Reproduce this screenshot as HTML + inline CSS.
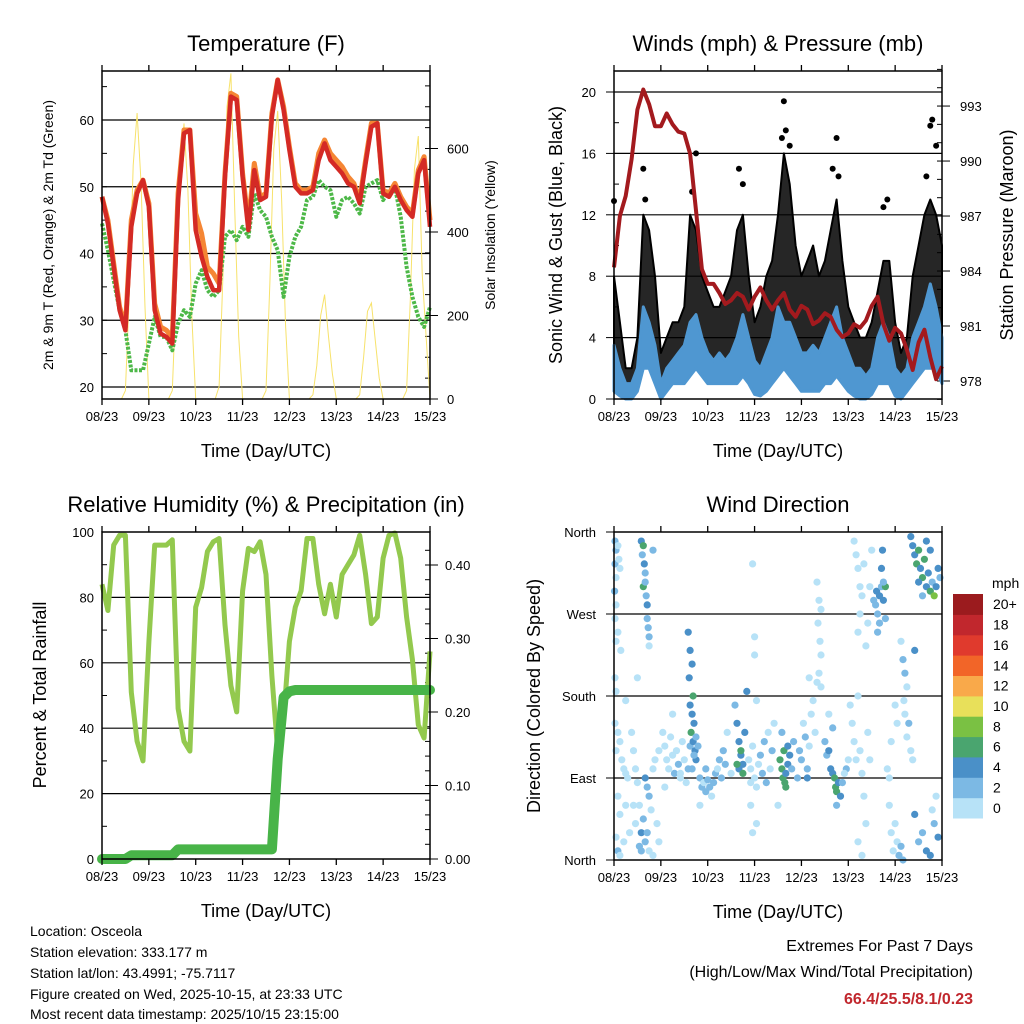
<!DOCTYPE html>
<html><head><meta charset="utf-8">
<style>
html,body{margin:0;padding:0;background:#fff;}
svg{display:block;font-family:"Liberation Sans",Arial,sans-serif;}
</style></head>
<body>
<svg id="chart" width="1024" height="1024" viewBox="0 0 1024 1024" xmlns="http://www.w3.org/2000/svg">
<rect x="0" y="0" width="1024" height="1024" fill="#fff"/>
<g id="p1"></g>
<g id="p2"></g>
<g id="p3"></g>
<g id="p4"></g>
<g id="cbar"></g>
<g font-size="14" fill="#000">
<text x="30" y="936">Location: Osceola</text>
<text x="30" y="957">Station elevation: 333.177 m</text>
<text x="30" y="978">Station lat/lon: 43.4991; -75.7117</text>
<text x="30" y="999">Figure created on Wed, 2025-10-15, at 23:33 UTC</text>
<text x="30" y="1019">Most recent data timestamp: 2025/10/15 23:15:00</text>
</g>
<g text-anchor="end" font-size="16">
<text x="973" y="951">Extremes For Past 7 Days</text>
<text x="973" y="977">(High/Low/Max Wind/Total Precipitation)</text>
<text x="973" y="1004" fill="#c1272d" font-weight="bold">66.4/25.5/8.1/0.23</text>
</g>
</svg>
<script>
const dayLabels=["08/23","09/23","10/23","11/23","12/23","13/23","14/23","15/23"];
const hours3=[0,3,6,9,12,15,18,21,24,27,30,33,36,39,42,45,48,51,54,57,60,63,66,69,72,75,78,81,84,87,90,93,96,99,102,105,108,111,114,117,120,123,126,129,132,135,138,141,144,147,150,153,156,159,162,165,168];
const tempRed=[48.5,44.5,38,31.5,28.5,44,49,51,47,31.5,28,27.5,26.5,48,58,58.5,43.5,39.5,36.5,34.5,34.5,51.5,63.5,63,51.5,43.5,52.5,48,48.5,60.5,66,61.5,55.5,50,49,49,49.5,54,56.5,54,53,52,50.5,50,47.5,53.5,59,59.5,49,48.5,50,48,46.5,45.5,52,54,44];
const tempOrange=[48.5,45,38.5,32,29,45,49.5,51,47.5,32.5,29,28.5,27.5,49,58.5,58.5,46,43,38,37,35.5,52,64,63.5,52,44.5,53.5,48.5,49,61,66,62,56,50.5,49.5,49.5,50,55,57,55,54,53,51.5,50.5,48,54,59.5,59.5,49.5,49,50.5,48.5,47,46,52.5,54.5,45];
const tempDew=[44.5,40.5,36,31.5,28.5,22.5,22.5,22.5,26.5,30.5,27.5,27.5,25.5,29.5,31.5,30.5,35.5,37.5,34.5,33.5,34.5,42.5,43.5,42,44,42.5,49,46.5,45.5,42.5,40.5,33.5,39.5,42.5,44,48,48.5,51,50,49.5,45.5,48,48.5,47.5,46,50,50.5,51,48,49.5,50,45.5,38,33.5,30.5,29,32];
const hours2=[];for(let h=0;h<=168;h+=2)hours2.push(h);
const solar=[0,0,0,0,0,0,20,250,560,685,520,220,
0,0,0,0,0,0,20,260,560,660,500,200,
0,0,0,0,0,0,30,300,700,780,450,150,
0,0,0,0,0,0,20,280,600,690,480,180,
0,0,0,0,0,0,10,80,200,250,150,60,
0,0,0,0,0,0,10,100,210,230,140,50,
0,0,0,0,0,0,20,250,550,630,300,150,0];
const pressure=[984.2,987,988.1,990.1,992.8,993.9,993.1,991.9,991.9,992.6,992,991.6,991.5,990.4,987.3,984.1,983.3,983.3,982.8,982.2,982.4,982.8,982.6,981.9,982.6,983.1,982.4,981.9,982.4,982.8,981.9,981.5,982.1,981.9,981.1,981.3,981.7,981.5,980.8,980.4,980.6,981.1,980.9,981.3,982.1,982.6,981.1,980.2,980.9,980.6,979.7,978.6,980.1,980.8,979.3,978.1,978.8];
const gustHi=[8,5,2,2,4,12,11,8,3,4,5,5,6,12,11,8,7,6,6,7,8,11,12,8,5,6,8,9,12,16,14,10,8,9,10,8,9,11,13,9,6,5,4,4,5,7,9,9,5,3,4,8,10,12,13,12,10];
const gustLo=[1,1,0.5,0.5,1,3,4,2,0.5,1,1.5,2,2,3,3,3,2,2,2,2,2,3,4,2,1,1,2,2,4,5,4,3,2,2,2,2,3,3,3,3,2,1,1,1,1,2,3,3,1,0.5,1,2,3,4,4,4,3];
const windHi=[3.5,2,1,1,2,6,5,3.5,1,2,2.5,3,3.5,5,5.5,4,3,2.5,3,2.5,3,4,5.5,4,2.5,2,3,4,6,5,5,4,3,3,3.5,3,4,5,6,4,3,2,2,1.5,2,4,5,4,2,1.5,2,4,5,6,7.5,6,4];
const windLo=[0.5,0.2,0,0,0.5,2,2,1,0,0.5,1,1,1,1.5,2,1.5,1,1,1,1,1,1,1.5,1,0.3,0.2,0.5,1,1.5,2,1.5,1,0.5,0.5,0.5,0.5,1,1,1.5,1,0.5,0.2,0,0,0.3,1,1,1,0.2,0,0.5,1,1.5,2,2,2,1];
const gustPeakHours=[0,15,16,40,42,64,66,86,87,88,90,112,114,115,138,140,160,162,163,165];
const gustPeakVals=[12.9,15,13,13.5,16,15,14,17,19.4,17.5,16.5,15,17,14.5,12.5,13,14.5,17.8,18.2,16.5];
const rh=[84,76,96,99,99,51,36,30,66.5,96,96,96,97.6,46,36,33,77,83,94,97,98,71.6,53,45,82,95,94,97,87,56,33,43,66.5,77,82,98,98,84,75,84,74,87,90,93,99,87,72,74,92,99,99.7,92,74,61,41,37,63.5];
const precip=[0,0,0,0,0,0.005,0.005,0.005,0.005,0.005,0.005,0.005,0.005,0.013,0.013,0.013,0.013,0.013,0.013,0.013,0.013,0.013,0.013,0.013,0.013,0.013,0.013,0.013,0.013,0.013,0.136,0.22,0.228,0.23,0.23,0.23,0.23,0.23,0.23,0.23,0.23,0.23,0.23,0.23,0.23,0.23,0.23,0.23,0.23,0.23,0.23,0.23,0.23,0.23,0.23,0.23,0.23];
const dirHours=[
0.5,1,0.5,1,0.3,1,2,2.5,3,0.5,
1,2,3.5,0.5,1,0.5,2,3,1,4,
5,6,7,2,3,1,2,3,5,6,
8,9,10,11,12,10,11,13,14,14,
15,13,14,15,14.5,15.5,16,15,16,16.5,
17,17,17.5,18,18,20,16,17,18,19,
16,17,18,20,22,23,21,23,25,26,
27,28,29,30,31,32,33,34,35,36,
37,38,39,38,39,40,38.5,40.5,39,40,
41,39.5,40.5,41.5,42,40,41,42,43,44,
45,46,47,48,49,50,51,52,53,54,
55,56,57,62,63,64,65,64,65,66,
66,67,68,63,69,70,72,73,71,74,
75,76,77,78,80,79,81,82,70,73,
71,72,72,71,73,85,86,87,86.5,88,
89,90,91,87.5,89,92,86,88,95,96,
97,98,99,100,101,102,103,99,104,105,
106,104.5,105.5,106,105,104,106,108,109,110,
111,112,113,113.5,114,115,116,114,117,119,
120,112,110,121,122,123,124,125,126,127,
128,129,125,127,130,123,124,125,126,127,
128,126,125,129,130,131,132,133,134,135,
134.5,136,137,138,139,136,135,137,137.5,139,
138,140,141,142,143,144,145,146,147,148,
142,144,145,147,148,149,150,148.5,149,151,
150,152,153,154,152,153,154,155,156,157,
158,159,160,161,162,163,164,165,166,167,
158,160,156,162,154,156,158,160,162,164,
166,163,165,6,12,30,44,58,84,100,
20,26,34,47,60,70,94,118,131,141];
const dirDeg=[
350,340,325,310,295,280,345,330,320,265,
240,250,230,200,185,150,140,130,120,110,
100,95,90,70,50,25,10,5,20,60,
30,140,120,100,85,60,40,15,10,30,
45,60,350,345,335,325,315,300,305,290,
280,265,255,245,235,340,90,80,70,55,
20,30,10,5,40,20,110,120,140,125,
110,100,135,115,95,120,105,90,130,110,
85,100,125,250,230,215,200,180,170,160,
150,140,130,120,110,100,115,135,125,90,
80,85,75,88,80,70,85,95,100,110,
90,120,105,170,150,130,115,100,120,105,
95,140,185,105,110,100,90,80,125,105,
115,95,130,85,100,140,120,150,60,40,
30,225,245,325,175,110,100,120,90,95,
105,115,100,85,125,130,140,80,120,110,
150,135,100,125,160,175,140,90,305,285,
275,260,240,225,205,195,190,130,115,120,
100,95,90,80,75,85,70,60,85,100,
110,145,160,170,150,130,110,180,120,95,
70,40,20,5,140,350,335,320,300,290,
325,270,250,235,260,300,340,285,280,270,
295,290,300,285,265,260,250,320,340,300,
305,100,60,30,10,40,20,5,15,0,
130,170,150,240,220,205,190,175,160,150,
135,120,110,230,355,345,335,325,340,320,
310,330,300,315,295,305,290,300,320,310,
290,350,305,340,50,20,30,10,5,40,
25,55,70,175,200,160,60,140,60,200,
100,80,95,100,95,85,90,95,110,90];
const dirSpeed=[
2,3,2,1,2,1,1,1,1,0,
0,0,1,0,0,0,0,1,1,0,
0,1,0,0,0,1,2,0,0,0,
0,0,0,1,1,0,0,3,3,4,
2,1,4,6,3,4,3,6,3,3,
4,3,2,2,1,3,4,3,2,1,
3,2,1,1,0,1,0,0,0,0,
1,1,0,1,2,1,2,1,0,1,
1,2,2,4,4,4,4,6,4,4,
4,6,4,4,4,3,2,3,2,2,
2,1,2,2,2,1,2,2,1,2,
2,2,2,3,4,4,4,4,6,4,
6,4,4,6,1,1,0,0,0,1,
2,2,2,3,1,1,2,0,0,0,
0,0,0,0,1,6,6,6,6,4,
4,4,3,6,4,3,3,6,2,2,
1,2,2,1,0,0,1,4,0,0,
0,0,0,0,0,0,1,3,2,4,
4,4,6,6,6,4,4,3,2,2,
1,2,1,0,0,0,0,0,1,1,
0,0,0,0,0,0,0,0,0,1,
0,0,0,0,0,0,0,2,2,2,
4,4,3,4,2,2,2,4,4,6,
3,0,0,0,0,1,1,2,3,2,
0,0,0,1,2,2,1,0,1,2,
0,1,0,4,4,4,4,6,6,4,
6,6,4,4,6,3,8,4,4,3,
3,4,4,4,4,2,3,4,4,3,
4,0,0,0,0,0,0,0,0,0,
0,1,0,2,1,0,2,1,0,0];
const speedColors=["#b7e2f7","#7cb9e4","#4a90c8","#4aa56f","#7ac143","#e8e05a","#f9a94a","#f26528","#e03a2d","#c1272d","#9b1b1e"];
const speedLabels=["0","2","4","6","8","10","12","14","16","18","20+"];

const NS="http://www.w3.org/2000/svg";
function mk(parent,tag,attrs){const e=document.createElementNS(NS,tag);for(const k in attrs)e.setAttribute(k,attrs[k]);parent.appendChild(e);return e;}
function txt(parent,x,y,s,size,anchor,extra){const t=mk(parent,'text',Object.assign({x:x,y:y,'font-size':size,'text-anchor':anchor||'middle'},extra||{}));t.textContent=s;return t;}

function frame(g,X0,X1,Y0,Y1,title,titleX){
  for(let d=0;d<=7;d++){
    const x=X0+d*(X1-X0)/7;
    const tk=mk(g,'line',{x1:x,x2:x,y1:Y1,y2:Y1+6,stroke:'#000','stroke-width':1.3});
    
    
    const tt=mk(g,'line',{x1:x,x2:x,y1:Y0,y2:Y0-6,stroke:'#000','stroke-width':1.3});
    
    
    const l=txt(g,x,Y1+22,dayLabels[d],13);
    
    
  }
  const xt=txt(g,(X0+X1)/2,Y1+58,'Time (Day/UTC)',18);
  
  
  const tl=txt(g,titleX,Y0-20,title,22);
  
  
}
function border(g,X0,X1,Y0,Y1){
  const r=mk(g,'rect',{x:X0,y:Y0,width:X1-X0,height:Y1-Y0,fill:'none',stroke:'#000','stroke-width':1.5});
  
  
}
function grid(g,X0,X1,y){
  const l=mk(g,'line',{x1:X0,x2:X1,y1:y,y2:y,stroke:'#000','stroke-width':1.2});
  
  
}
function ytick(g,x,y,len){mk(g,'line',{x1:x,x2:x+len,y1:y,y2:y,stroke:'#000','stroke-width':1});}
function pathFrom(xs,ys,sx,sy){return xs.map((h,i)=>(i?'L':'M')+sx(h).toFixed(1)+','+sy(ys[i]).toFixed(1)).join('');}

(function(){
  const g=document.getElementById('p1');
  const X0=102,X1=430,Y0=71,Y1=399;
  const sx=h=>X0+h/168*(X1-X0);
  const sy=v=>387-(v-20)*6.675;
  const ss=v=>399-v*0.4175;
  [20,30,40,50,60].forEach(v=>{grid(g,X0,X1,sy(v));const l=txt(g,X0-8,sy(v)+5,String(v),13,'end');});
  for(let v=20;v<=65;v+=5)ytick(g,X0,sy(v),5);
  [0,200,400,600].forEach(v=>{ytick(g,X1,ss(v),8);const l=txt(g,X1+17,ss(v)+5,String(v),13,'start');});
  for(let v=50;v<=750;v+=50)ytick(g,X1-5,ss(v),5);
  const sol=mk(g,'path',{d:pathFrom(hours2,solar,sx,ss),fill:'none',stroke:'#f7e26b','stroke-width':1});
  
  
  const dew=mk(g,'path',{d:pathFrom(hours3,tempDew,sx,sy),fill:'none',stroke:'#4db848','stroke-width':4,'stroke-dasharray':'3 1.5','stroke-linejoin':'round'});
  
  
  const or=mk(g,'path',{d:pathFrom(hours3,tempOrange,sx,sy),fill:'none',stroke:'#f58634','stroke-width':5,'stroke-linejoin':'round'});
  
  
  const rd=mk(g,'path',{d:pathFrom(hours3,tempRed,sx,sy),fill:'none',stroke:'#d42a25','stroke-width':4.5,'stroke-linejoin':'round'});
  
  
  border(g,X0,X1,Y0,Y1);
  frame(g,X0,X1,Y0,Y1,'Temperature (F)',266);
  const yt=txt(g,0,0,'2m & 9m T (Red, Orange) & 2m Td (Green)',14,'middle',{transform:'translate(53,235) rotate(-90)'});
  
  
  const y2=txt(g,0,0,'Solar Insolation (Yellow)',14,'middle',{transform:'translate(495,235) rotate(-90)'});
  
  
})();

(function(){
  const g=document.getElementById('p2');
  const X0=614,X1=942,Y0=71,Y1=399;
  const sx=h=>X0+h/168*(X1-X0);
  const sy=v=>399-v*15.35;
  const sp=v=>381-(v-978)*18.33;
  [4,8,12,16,20].forEach(v=>grid(g,X0,X1,sy(v)));
  [0,4,8,12,16,20].forEach(v=>{const l=txt(g,X0-18,sy(v)+5,String(v),13,'end');ytick(g,X0-8,sy(v),8);});
  for(let v=2;v<=20;v+=4)ytick(g,X0,sy(v),5);
  [978,981,984,987,990,993].forEach(v=>{ytick(g,X1,sp(v),8);const l=txt(g,X1+18,sp(v)+5,String(v),13,'start');});
  for(let v=977;v<=995;v++)ytick(g,X1-5,sp(v),5);
  let d='M'+hours3.map((h,i)=>sx(h).toFixed(1)+','+sy(gustHi[i]).toFixed(1)).join('L');
  for(let i=hours3.length-1;i>=0;i--)d+='L'+sx(hours3[i]).toFixed(1)+','+sy(gustLo[i]).toFixed(1);
  const ga=mk(g,'path',{d:d+'Z',fill:'#000','fill-opacity':0.85,stroke:'#000','stroke-width':2,'stroke-linejoin':'round'});
  
  
  gustPeakHours.forEach((h,i)=>{
    const c=mk(g,'circle',{cx:sx(h),cy:sy(gustPeakVals[i]),r:3,fill:'#000'});
    
    
  });
  let w='M'+hours3.map((h,i)=>sx(h).toFixed(1)+','+sy(windHi[i]).toFixed(1)).join('L');
  for(let i=hours3.length-1;i>=0;i--)w+='L'+sx(hours3[i]).toFixed(1)+','+sy(windLo[i]).toFixed(1);
  const wa=mk(g,'path',{d:w+'Z',fill:'#4f97d1',stroke:'#4f97d1','stroke-width':3,'stroke-linejoin':'round'});
  
  
  const pl=mk(g,'path',{d:pathFrom(hours3,pressure,sx,sp),fill:'none',stroke:'#a31a1e','stroke-width':4,'stroke-linejoin':'round'});
  
  
  border(g,X0,X1,Y0,Y1);
  frame(g,X0,X1,Y0,Y1,'Winds (mph) & Pressure (mb)',778);
  const yt=txt(g,0,0,'Sonic Wind & Gust (Blue, Black)',18,'middle',{transform:'translate(562,235) rotate(-90)'});
  
  
  const y2=txt(g,0,0,'Station Pressure (Maroon)',18,'middle',{transform:'translate(1013,235) rotate(-90)'});
  
  
})();

(function(){
  const g=document.getElementById('p3');
  const X0=102,X1=430,Y0=532,Y1=859;
  const sx=h=>X0+h/168*(X1-X0);
  const sy=v=>859-v*3.27;
  const sp=v=>859-v*735;
  [20,40,60,80].forEach(v=>grid(g,X0,X1,sy(v)));
  [0,20,40,60,80,100].forEach(v=>{const l=txt(g,X0-8,sy(v)+5,String(v),13,'end');});
  for(let v=10;v<=90;v+=20)ytick(g,X0,sy(v),5);
  ['0.00','0.10','0.20','0.30','0.40'].forEach(s=>{const v=parseFloat(s);ytick(g,X1,sp(v),8);const l=txt(g,X1+15,sp(v)+5,s,13,'start');});
  for(let v=0.02;v<=0.44;v+=0.02)ytick(g,X1-5,sp(v),5);
  const rl=mk(g,'path',{d:pathFrom(hours3,rh,sx,sy),fill:'none',stroke:'#93c94e','stroke-width':5,'stroke-linejoin':'round'});
  
  
  const pr=mk(g,'path',{d:pathFrom(hours3,precip,sx,sp),fill:'none',stroke:'#48b448','stroke-width':10,'stroke-linejoin':'round','stroke-linecap':'round'});
  
  
  border(g,X0,X1,Y0,Y1);
  frame(g,X0,X1,Y0,Y1,'Relative Humidity (%) & Precipitation (in)',266);
  const yt=txt(g,0,0,'Percent & Total Rainfall',18,'middle',{transform:'translate(46,695) rotate(-90)'});
  
  
})();

(function(){
  const g=document.getElementById('p4');
  const X0=614,X1=942,Y0=532,Y1=860;
  const sx=h=>X0+h/168*(X1-X0);
  const sy=v=>860-v/360*(Y1-Y0);
  [90,180,270].forEach(v=>grid(g,X0,X1,sy(v)));
  [['North',0],['East',90],['South',180],['West',270],['North',360]].forEach(a=>{const l=txt(g,X0-18,sy(a[1])+5,a[0],13,'end');ytick(g,X0-8,sy(a[1]),8);});
  dirHours.forEach((h,i)=>{
    const k=Math.min(10,Math.floor((dirSpeed[i]||0)/2));
    const c=mk(g,'circle',{cx:sx(h).toFixed(1),cy:sy(dirDeg[i]).toFixed(1),r:3.6,fill:speedColors[k]});
    
    
  });
  border(g,X0,X1,Y0,Y1);
  frame(g,X0,X1,Y0,Y1,'Wind Direction',778);
  const yt=txt(g,0,0,'Direction (Colored By Speed)',18,'middle',{transform:'translate(540,696) rotate(-90)'});
  
  
})();

(function(){
  const g=document.getElementById('cbar');
  const t=txt(g,992,588,'mph',14,'start');
  
  
  const h=224/11;
  speedColors.forEach((c,i)=>{
    const y=818-(i+1)*h;
    const r=mk(g,'rect',{x:953,y:y.toFixed(1),width:30,height:(h+0.5).toFixed(1),fill:c});
    
    
    const l=txt(g,993,y+h/2+5,speedLabels[i],14,'start');
    
    
  });
})();
</script>
</body></html>
